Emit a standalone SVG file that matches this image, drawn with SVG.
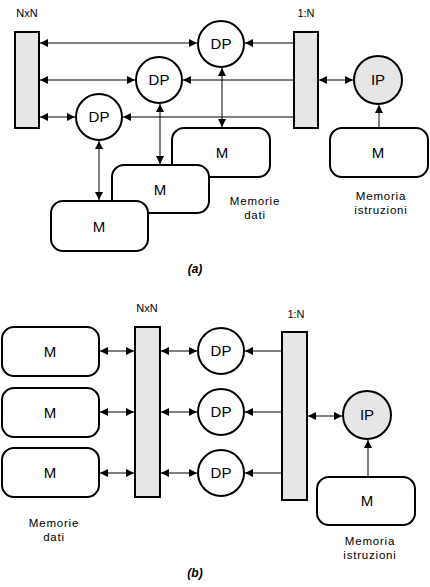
<svg xmlns="http://www.w3.org/2000/svg" width="430" height="587" viewBox="0 0 430 587">
<style>
.bar{fill:#e6e6e6;stroke:#000;stroke-width:2}
.mem{fill:#fff;stroke:#000;stroke-width:2}
.dp{fill:#fff;stroke:#000;stroke-width:2}
.ip{fill:#e6e6e6;stroke:#000;stroke-width:2}
.c line{stroke:#000;stroke-width:1;fill:none}
.t{font-family:"Liberation Sans",Arial,sans-serif;font-size:15px;text-anchor:middle;fill:#000}
.s{font-family:"Liberation Sans",Arial,sans-serif;font-size:11px;text-anchor:middle;fill:#000}
.l{font-family:"Liberation Sans",Arial,sans-serif;font-size:11.5px;letter-spacing:0.8px;text-anchor:middle;fill:#000}
.cap{font-family:"Liberation Sans",Arial,sans-serif;font-size:12px;font-style:italic;font-weight:bold;text-anchor:middle;fill:#000}
.b{marker-end:url(#ah);marker-start:url(#ah)}
.e{marker-end:url(#ah)}
</style>
<defs>
<marker id="ah" viewBox="0 0 8 8" refX="8" refY="4" markerWidth="8" markerHeight="8" markerUnits="userSpaceOnUse" orient="auto-start-reverse">
<path d="M0,0 L8,4 L0,8 z" fill="#000"/>
</marker>
</defs>
<rect width="430" height="587" fill="#fff"/>

<!-- (a) -->
<g id="a-nxn"><rect class="bar" x="15" y="32" width="24" height="96"/><text class="s" x="27" y="17">NxN</text></g>
<g id="a-1n"><rect class="bar" x="294" y="32" width="24" height="96"/><text class="s" x="306" y="17">1:N</text></g>
<g id="a-m-top"><rect class="mem" x="172" y="128" width="98" height="49" rx="12"/><text class="t" x="222" y="158">M</text></g>
<g id="a-m-mid"><rect class="mem" x="112" y="165" width="97" height="48" rx="12"/><text class="t" x="160" y="195">M</text></g>
<g id="a-m-bot"><rect class="mem" x="51" y="201" width="97" height="50" rx="12"/><text class="t" x="99" y="232">M</text></g>
<g id="a-m-ip"><rect class="mem" x="330" y="128" width="98" height="49" rx="12"/><text class="t" x="378" y="158">M</text></g>
<g id="a-dp-top"><circle class="dp" cx="221" cy="44" r="23"/><text class="t" x="221" y="49">DP</text></g>
<g id="a-dp-mid"><circle class="dp" cx="159" cy="80" r="23"/><text class="t" x="159" y="85">DP</text></g>
<g id="a-dp-bot"><circle class="dp" cx="99" cy="117" r="23"/><text class="t" x="99" y="122">DP</text></g>
<g id="a-ip"><circle class="ip" cx="378" cy="80" r="24"/><text class="t" x="378" y="85">IP</text></g>
<g id="a-labels">
<text class="l" x="255" y="205">Memorie</text><text class="l" x="255" y="218.5">dati</text>
<text class="l" x="381" y="200">Memoria</text><text class="l" x="381" y="213.5">istruzioni</text>
<text class="cap" x="195" y="273">(a)</text>
</g>
<g id="a-connectors" class="c">
<line class="b" x1="40" y1="43" x2="197" y2="43"/>
<line class="b" x1="40" y1="80" x2="135" y2="80"/>
<line class="b" x1="40" y1="117" x2="75" y2="117"/>
<line class="e" x1="293" y1="43" x2="245" y2="43"/>
<line class="e" x1="293" y1="80" x2="183" y2="80"/>
<line class="e" x1="293" y1="117" x2="123" y2="117"/>
<line class="b" x1="319" y1="80" x2="353" y2="80"/>
<line class="e" x1="379" y1="127" x2="379" y2="105"/>
<line class="b" x1="222" y1="68" x2="222" y2="127"/>
<line class="b" x1="160" y1="104" x2="160" y2="164"/>
<line class="b" x1="99" y1="141" x2="99" y2="200"/>
</g>

<!-- (b) -->
<g id="b-nxn"><rect class="bar" x="135" y="327" width="25" height="170"/><text class="s" x="147" y="312">NxN</text></g>
<g id="b-1n"><rect class="bar" x="282" y="332" width="25" height="168"/><text class="s" x="296" y="318">1:N</text></g>
<g id="b-m1"><rect class="mem" x="2" y="327" width="97" height="49" rx="12"/><text class="t" x="50" y="357">M</text></g>
<g id="b-m2"><rect class="mem" x="2" y="388" width="97" height="49" rx="12"/><text class="t" x="50" y="418">M</text></g>
<g id="b-m3"><rect class="mem" x="2" y="448" width="97" height="49" rx="12"/><text class="t" x="50" y="478">M</text></g>
<g id="b-dp1"><circle class="dp" cx="221" cy="351" r="23"/><text class="t" x="221" y="356">DP</text></g>
<g id="b-dp2"><circle class="dp" cx="221" cy="412" r="23"/><text class="t" x="221" y="417">DP</text></g>
<g id="b-dp3"><circle class="dp" cx="221" cy="473" r="23"/><text class="t" x="221" y="478">DP</text></g>
<g id="b-ip"><circle class="ip" cx="367" cy="415" r="24"/><text class="t" x="367" y="420">IP</text></g>
<g id="b-m-ip"><rect class="mem" x="317" y="477" width="98" height="48" rx="12"/><text class="t" x="367" y="506">M</text></g>
<g id="b-labels">
<text class="l" x="54" y="527">Memorie</text><text class="l" x="54" y="540.5">dati</text>
<text class="l" x="370" y="545">Memoria</text><text class="l" x="370" y="558.5">istruzioni</text>
<text class="cap" x="195" y="577">(b)</text>
</g>
<g id="b-connectors" class="c">
<line class="b" x1="100" y1="351" x2="134" y2="351"/>
<line class="b" x1="100" y1="412" x2="134" y2="412"/>
<line class="b" x1="100" y1="473" x2="134" y2="473"/>
<line class="b" x1="161" y1="351" x2="197" y2="351"/>
<line class="b" x1="161" y1="412" x2="197" y2="412"/>
<line class="b" x1="161" y1="473" x2="197" y2="473"/>
<line class="e" x1="281" y1="351" x2="245" y2="351"/>
<line class="e" x1="281" y1="412" x2="245" y2="412"/>
<line class="e" x1="281" y1="473" x2="245" y2="473"/>
<line class="b" x1="308" y1="416" x2="342" y2="416"/>
<line class="e" x1="368" y1="476" x2="368" y2="440"/>
</g>
</svg>
